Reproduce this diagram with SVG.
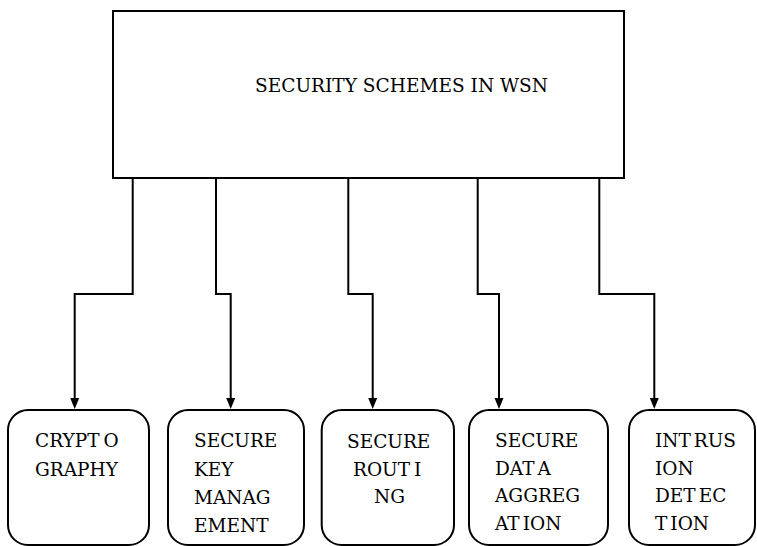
<svg xmlns="http://www.w3.org/2000/svg" width="757" height="546" viewBox="0 0 757 546">
  <style>
    .box { fill: #ffffff; stroke: #000000; stroke-width: 2; }
    .conn { fill: none; stroke: #000000; stroke-width: 2; }
    .lbl { font-family: 'DejaVu Serif', 'Liberation Serif', serif; font-size: 18.5px; fill: #000000; }
  </style>
  <defs>
    <marker id="arrow" markerUnits="userSpaceOnUse" markerWidth="11" markerHeight="10" refX="0" refY="5" orient="auto">
      <path d="M0,0.5 L11,5 L0,9.5 Z" fill="#000000"/>
    </marker>
  </defs>
  <rect width="757" height="546" fill="#ffffff"/>

  <g id="root">
    <rect class="box" x="113" y="11" width="511" height="167"/>
    <text class="lbl" x="255" y="92" textLength="293" lengthAdjust="spacingAndGlyphs">SECURITY SCHEMES IN WSN</text>
  </g>

  <g id="connectors">
    <path class="conn" d="M132.7,178 V294 H74.7 V398" marker-end="url(#arrow)"/>
    <path class="conn" d="M216,178 V294 H230.7 V398" marker-end="url(#arrow)"/>
    <path class="conn" d="M348.3,178 V294 H372.7 V398" marker-end="url(#arrow)"/>
    <path class="conn" d="M477.7,178 V294 H499 V398" marker-end="url(#arrow)"/>
    <path class="conn" d="M599.3,178 V294 H654.3 V398" marker-end="url(#arrow)"/>
  </g>

  <g id="cryptography">
    <rect class="box" x="8" y="410" width="141" height="135" rx="20" ry="20"/>
    <text class="lbl" x="35" y="447">CRYPT<tspan dx="4">O</tspan></text>
    <text class="lbl" x="35" y="476">GRAPHY</text>
  </g>

  <g id="secure-key-management">
    <rect class="box" x="168" y="410" width="136" height="135" rx="20" ry="20"/>
    <text class="lbl" x="194" y="447">SECURE</text>
    <text class="lbl" x="194" y="476">KEY</text>
    <text class="lbl" x="194" y="504">MANAG</text>
    <text class="lbl" x="194" y="532">EMENT</text>
  </g>

  <g id="secure-routing">
    <rect class="box" x="321.7" y="410" width="132.3" height="135" rx="20" ry="20"/>
    <text class="lbl" x="347" y="448">SECURE</text>
    <text class="lbl" x="353" y="476">ROUT<tspan dx="4">I</tspan></text>
    <text class="lbl" x="374" y="503">NG</text>
  </g>

  <g id="secure-data-aggregation">
    <rect class="box" x="469" y="410" width="139" height="135" rx="20" ry="20"/>
    <text class="lbl" x="495" y="447">SECURE</text>
    <text class="lbl" x="495" y="475">DAT<tspan dx="4">A</tspan></text>
    <text class="lbl" x="495" y="502">AGGREG</text>
    <text class="lbl" x="495" y="530">AT<tspan dx="3">ION</tspan></text>
  </g>

  <g id="intrusion-detection">
    <rect class="box" x="629" y="410" width="126" height="135" rx="20" ry="20"/>
    <text class="lbl" x="655" y="447">INT<tspan dx="3">RUS</tspan></text>
    <text class="lbl" x="655" y="475">ION</text>
    <text class="lbl" x="655" y="502">DET<tspan dx="3">EC</tspan></text>
    <text class="lbl" x="655" y="530">T<tspan dx="3">ION</tspan></text>
  </g>
</svg>
